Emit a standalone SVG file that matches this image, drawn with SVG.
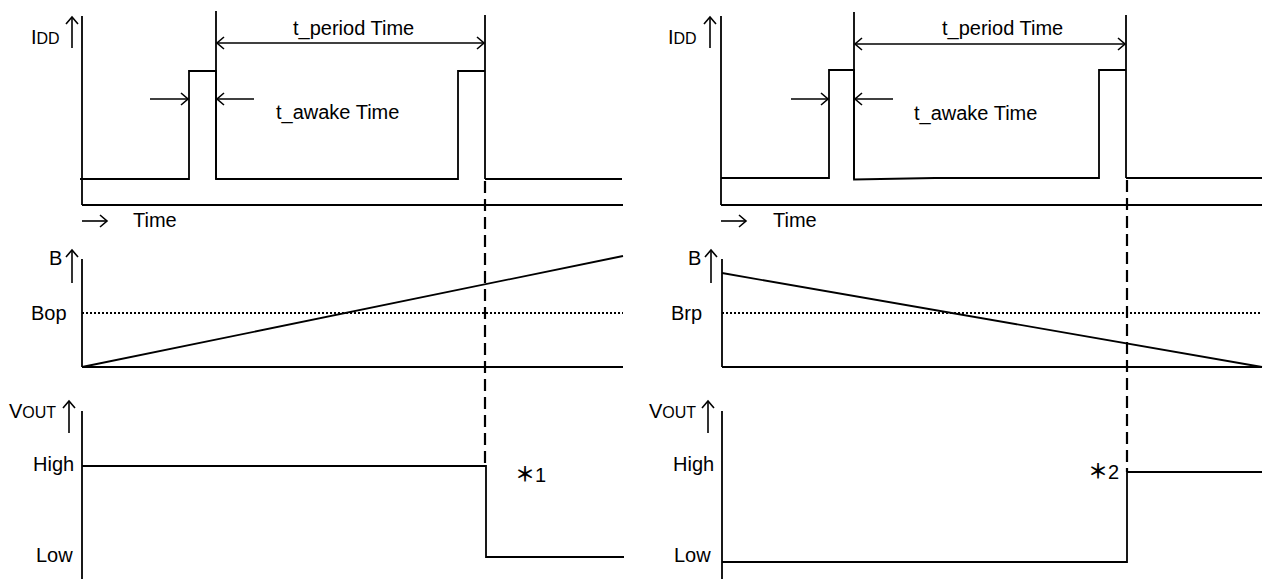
<svg xmlns="http://www.w3.org/2000/svg" width="1264" height="579" viewBox="0 0 1264 579">
<style>
.ln{fill:none;stroke:#000;stroke-width:1.8}
.ar{fill:none;stroke:#000;stroke-width:1.6}
.dash{fill:none;stroke:#000;stroke-width:2.2;stroke-dasharray:12 6}
.dot{fill:none;stroke:#000;stroke-width:1.8;stroke-dasharray:2 2}
text{font-family:"Liberation Sans","Noto Sans CJK JP",sans-serif;font-size:20px;fill:#000}
.sm{font-size:16px}
.ast{font-weight:bold}
</style>
<defs>
<marker id="ah" markerUnits="userSpaceOnUse" markerWidth="12" markerHeight="16" refX="8" refY="7" orient="auto-start-reverse">
<path d="M1,1 L8,7 L1,13" fill="none" stroke="#000" stroke-width="1.6"/>
</marker>
</defs>
<rect width="1264" height="579" fill="#fff"/>

<g id="left-idd">
<line class="ln" x1="82" y1="16" x2="82" y2="205"/>
<line class="ln" x1="82" y1="205" x2="623" y2="205"/>
<polyline class="ln" points="80,179 189,179 189,71 216,71 216,179 458,179 458,71 485,71"/>
<line class="ln" x1="216" y1="11" x2="216" y2="179"/>
<line class="ln" x1="485" y1="15" x2="485" y2="179"/>
<line class="ln" x1="485" y1="179" x2="622" y2="179"/>
<line class="ar" x1="72" y1="48" x2="72" y2="17" marker-end="url(#ah)"/>
<line class="ar" x1="82" y1="221" x2="107" y2="221" marker-end="url(#ah)"/>
<line class="ar" x1="217" y1="43" x2="484" y2="43" marker-start="url(#ah)" marker-end="url(#ah)"/>
<line class="ar" x1="150" y1="99" x2="188" y2="99" marker-end="url(#ah)"/>
<line class="ar" x1="254" y1="99" x2="217" y2="99" marker-end="url(#ah)"/>
<text x="31" y="44">I<tspan class="sm">DD</tspan></text>
<text x="293" y="35">t_period Time</text>
<text x="276" y="119">t_awake Time</text>
<text x="133" y="227">Time</text>
</g>

<g id="left-b">
<line class="ln" x1="82" y1="259" x2="82" y2="367"/>
<line class="ln" x1="82" y1="367" x2="623" y2="367"/>
<line class="dot" x1="82" y1="313" x2="623" y2="313"/>
<line class="ln" x1="82" y1="367" x2="623" y2="256"/>
<line class="ar" x1="72" y1="283" x2="72" y2="250" marker-end="url(#ah)"/>
<text x="49" y="265">B</text>
<text x="31" y="320">Bop</text>
</g>

<g id="left-vout">
<line class="ln" x1="82" y1="411" x2="82" y2="579"/>
<polyline class="ln" points="82,466 486,466 486,557 624,557"/>
<line class="ar" x1="69" y1="433" x2="69" y2="401" marker-end="url(#ah)"/>
<text x="9" y="418">V<tspan class="sm">OUT</tspan></text>
<text x="33" y="471">High</text>
<text x="36" y="562">Low</text>
<text x="515" y="482"><tspan class="ast">＊</tspan>1</text>
</g>

<g id="right-idd">
<line class="ln" x1="721" y1="16" x2="721" y2="205"/>
<line class="ln" x1="721" y1="205" x2="1262" y2="205"/>
<polyline class="ln" points="721,178 829,178 829,70 854,70 854,179.5 935,178 1099,178 1099,70 1126,70"/>
<line class="ln" x1="854" y1="12" x2="854" y2="179"/>
<line class="ln" x1="1126" y1="15" x2="1126" y2="178"/>
<line class="ln" x1="1126" y1="178" x2="1262" y2="178"/>
<line class="ar" x1="710" y1="48" x2="710" y2="17" marker-end="url(#ah)"/>
<line class="ar" x1="721" y1="221" x2="746" y2="221" marker-end="url(#ah)"/>
<line class="ar" x1="855" y1="44" x2="1125" y2="44" marker-start="url(#ah)" marker-end="url(#ah)"/>
<line class="ar" x1="791" y1="99" x2="828" y2="99" marker-end="url(#ah)"/>
<line class="ar" x1="893" y1="99" x2="855" y2="99" marker-end="url(#ah)"/>
<text x="668" y="44">I<tspan class="sm">DD</tspan></text>
<text x="942" y="35">t_period Time</text>
<text x="914" y="120">t_awake Time</text>
<text x="773" y="227">Time</text>
</g>

<g id="right-b">
<line class="ln" x1="722" y1="259" x2="722" y2="367"/>
<line class="ln" x1="722" y1="367" x2="1262" y2="367"/>
<line class="dot" x1="722" y1="313" x2="1262" y2="313"/>
<line class="ln" x1="722" y1="273" x2="1262" y2="367"/>
<line class="ar" x1="711" y1="283" x2="711" y2="250" marker-end="url(#ah)"/>
<text x="688" y="265">B</text>
<text x="671" y="320">Brp</text>
</g>

<g id="right-vout">
<line class="ln" x1="722" y1="411" x2="722" y2="579"/>
<polyline class="ln" points="722,562 1127,562 1127,472 1262,472"/>
<line class="ar" x1="708" y1="433" x2="708" y2="401" marker-end="url(#ah)"/>
<text x="649" y="418">V<tspan class="sm">OUT</tspan></text>
<text x="673" y="471">High</text>
<text x="674" y="562">Low</text>
<text x="1088" y="479"><tspan class="ast">＊</tspan>2</text>
</g>

<g id="connectors">
<line class="dash" x1="485" y1="181" x2="485" y2="466"/>
<line class="dash" x1="1127" y1="180" x2="1127" y2="472"/>
</g>
</svg>
